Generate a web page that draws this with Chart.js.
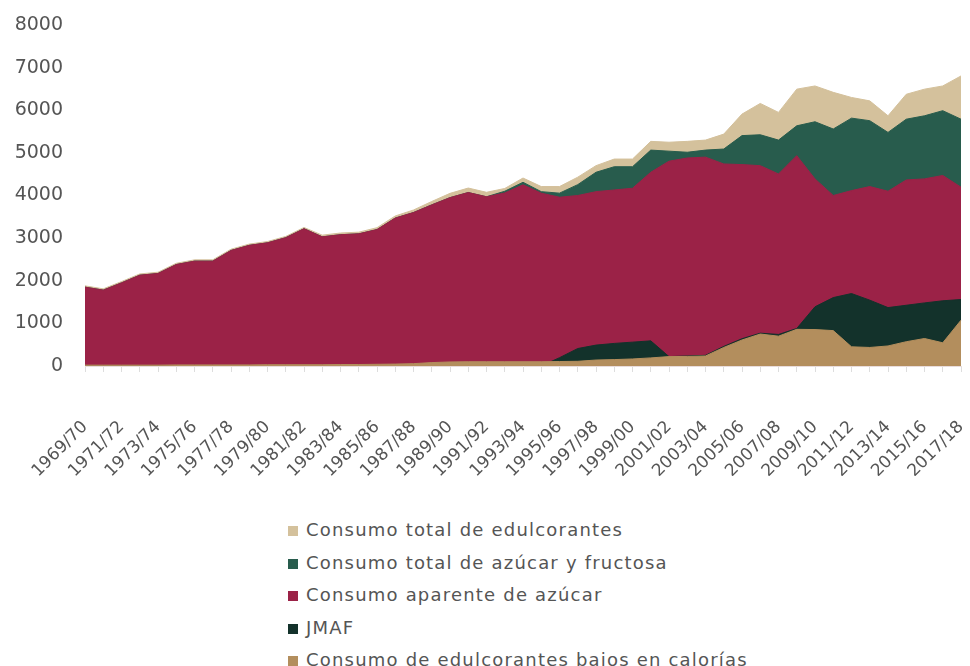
<!DOCTYPE html>
<html>
<head>
<meta charset="utf-8">
<script src="https://cdn.jsdelivr.net/npm/chart.js@4"></script>
<style>
    body { margin: 0; background: #fff; overflow: hidden; }
    #wrap { position: relative; width: 970px; height: 476px; }
    #legend { position: absolute; left: 288px; top: 516px; font-family: "DejaVu Sans", sans-serif; font-size: 18px; color: #555; letter-spacing: 1.2px; }
    #legend div { height: 32.5px; line-height: 28px; white-space: nowrap; }
    #legend span.box { display: inline-block; width: 10px; height: 10px; margin-right: 8px; }
</style>
</head>
<body>
<div id="wrap"><canvas id="myChart"></canvas></div>
<div id="legend"></div>
<script>
// Ciclos (eje x)
var ciclos = ["1969/70", "1970/71", "1971/72", "1972/73", "1973/74", "1974/75", "1975/76", "1976/77", "1977/78", "1978/79",
    "1979/80", "1980/81", "1981/82", "1982/83", "1983/84", "1984/85", "1985/86", "1986/87", "1987/88", "1988/89",
    "1989/90", "1990/91", "1991/92", "1992/93", "1993/94", "1994/95", "1995/96", "1996/97", "1997/98", "1998/99",
    "1999/00", "2000/01", "2001/02", "2002/03", "2003/04", "2004/05", "2005/06", "2006/07", "2007/08", "2008/09",
    "2009/10", "2010/11", "2011/12", "2012/13", "2013/14", "2014/15", "2015/16", "2016/17", "2017/18"];

// Series (miles de toneladas)
var totalEdulcorantes = [1880, 1810, 1980, 2160, 2200, 2410, 2490, 2490, 2740, 2860, 2920, 3040, 3250, 3070, 3120, 3140, 3245,
    3520, 3660, 3860, 4050, 4175, 4075, 4165, 4410, 4210, 4210, 4430, 4700, 4855, 4855, 5270, 5250, 5270, 5300, 5440,
    5910, 6160, 5950, 6495, 6570, 6420, 6300, 6220, 5870, 6375, 6495, 6570, 6805];
var totalAzucarFructosa = [1850, 1780, 1950, 2130, 2170, 2380, 2460, 2460, 2710, 2830, 2890, 3010, 3220, 3030, 3080, 3100, 3200,
    3470, 3600, 3780, 3950, 4070, 3970, 4100, 4310, 4090, 4055, 4255, 4545, 4675, 4675, 5065, 5040, 5015, 5065, 5090,
    5405, 5425, 5300, 5635, 5730, 5560, 5815, 5755, 5480, 5790, 5870, 5990, 5790];
var aparenteAzucar = [1850, 1780, 1950, 2130, 2170, 2380, 2460, 2460, 2710, 2830, 2890, 3010, 3220, 3030, 3080, 3100, 3200,
    3470, 3600, 3780, 3950, 4070, 3970, 4060, 4250, 4055, 3960, 4000, 4090, 4130, 4170, 4545, 4805, 4880, 4900, 4740,
    4725, 4700, 4505, 4935, 4390, 4000, 4115, 4210, 4100, 4365, 4390, 4470, 4195];
var jmaf = [0, 0, 0, 0, 0, 0, 0, 0, 0, 0, 0, 0, 0, 0, 0, 0, 0, 0, 0, 0, 0, 0, 0, 0, 0, 0, 195, 410, 490, 530, 560, 590,
    220, 235, 250, 460, 640, 770, 740, 880, 1390, 1605, 1700, 1545, 1370, 1425, 1480, 1530, 1560];
var bajosCalorias = [20, 20, 20, 20, 20, 25, 25, 25, 25, 25, 30, 30, 30, 30, 35, 35, 40, 45, 55, 80, 95, 100, 100, 100, 100,
    100, 105, 110, 140, 150, 165, 190, 220, 225, 235, 435, 610, 750, 700, 860, 855, 830, 450, 435, 470, 570, 645, 545, 1075];

var yTicks = [0, 1000, 2000, 3000, 4000, 5000, 6000, 7000, 8000];

// Makes one filled area dataset, "orden" decides which one is drawn on top
function area(label, data, color, orden) {
    return {
        label: label,
        data: data,
        backgroundColor: color,
        borderColor: color,
        borderWidth: 1,
        pointRadius: 0,
        tension: 0,
        fill: "origin",
        order: orden
    };
}

var datasets = [
    area("Consumo total de edulcorantes", totalEdulcorantes, "#D4C19C", 5),
    area("Consumo total de azúcar y fructosa", totalAzucarFructosa, "#285C4D", 4),
    area("Consumo aparente de azúcar", aparenteAzucar, "#9B2247", 3),
    area("JMAF", jmaf, "#13322B", 2),
    area("Consumo de edulcorantes bajos en calorías", bajosCalorias, "#B38E5D", 1)
];

Chart.defaults.font.family = "'DejaVu Sans', sans-serif";
Chart.defaults.color = "#555";

new Chart("myChart", {
    type: "line",
    data: { labels: ciclos, datasets: datasets },
    options: {
        responsive: true,
        maintainAspectRatio: false,
        animation: false,
        layout: { padding: { left: 15, right: 9, top: 25, bottom: 0 } },
        plugins: { legend: { display: false }, tooltip: { enabled: false } },
        scales: {
            x: {
                // fixed axis size, the rotated labels should not push the plot inwards
                afterFit: function (scale) { scale.height = 110; scale.paddingLeft = 0; scale.paddingRight = 0; },
                grid: { drawOnChartArea: false, color: "#ddd", tickLength: 6 },
                border: { color: "#e8dcdc" },
                ticks: {
                    autoSkip: false,
                    maxRotation: 45,
                    minRotation: 45,
                    padding: 45,
                    font: { size: 17 },
                    // only every second cycle gets a label
                    callback: function (val, i) { return i % 2 === 0 ? ciclos[i] : ""; }
                }
            },
            y: {
                min: 0,
                max: 8000,
                afterBuildTicks: function (scale) { scale.ticks = yTicks.map(v => ({ value: v })); },
                afterFit: function (scale) { scale.width = 70; scale.paddingTop = 0; scale.paddingBottom = 0; },
                grid: { display: false, drawTicks: false },
                border: { display: false },
                ticks: { font: { size: 19 }, padding: 22, callback: v => String(v) }
            }
        }
    }
});

// Vertical legend under the chart
var legend = document.getElementById("legend");
datasets.forEach(ds => {
    var row = document.createElement("div");
    row.innerHTML = '<span class="box" style="background:' + ds.backgroundColor + '"></span>' + ds.label;
    legend.appendChild(row);
});
</script>
</body>
</html>
